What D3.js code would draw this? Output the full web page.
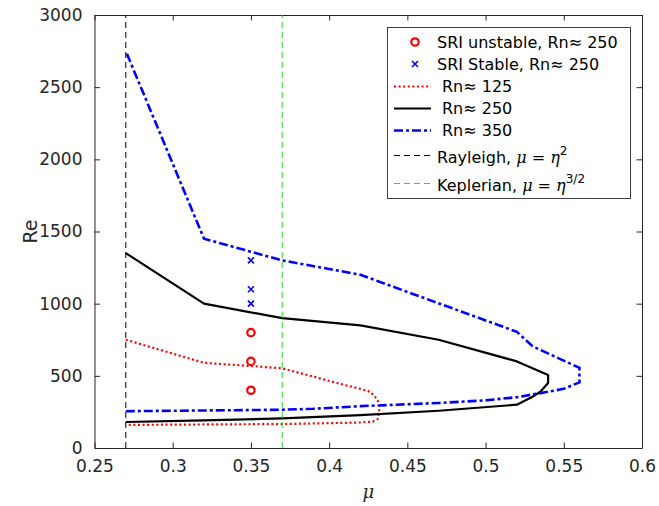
<!DOCTYPE html>
<html>
<head>
<meta charset="utf-8">
<script src="https://cdn.jsdelivr.net/npm/d3@7"></script>
<style>
  body { margin: 0; background: #fff; }
  svg { display: block; font-family: "DejaVu Sans", sans-serif; }
</style>
</head>
<body>
<div id="chart"></div>
<script>
// ---- data ----
const muTicks = [0.25, 0.3, 0.35, 0.4, 0.45, 0.5, 0.55, 0.6];
const muTickLabels = ["0.25", "0.3", "0.35", "0.4", "0.45", "0.5", "0.55", "0.6"];
const reTicks = [0, 500, 1000, 1500, 2000, 2500, 3000];

const sriUnstableMu = [0.35, 0.35, 0.35];
const sriUnstableRe = [400, 600, 800];
const sriStableMu = [0.35, 0.35, 0.35];
const sriStableRe = [1000, 1100, 1300];

const rn125Mu = [0.27, 0.32, 0.35, 0.37, 0.39, 0.41, 0.42, 0.426, 0.429, 0.431, 0.432, 0.432, 0.431, 0.428, 0.42, 0.40, 0.37, 0.32, 0.27];
const rn125Re = [750, 590, 568, 552, 494, 436, 410, 390, 360, 330, 290, 252, 200, 183, 177, 172, 166, 163, 160];

// Rn 250: lower branch then upper branch of one curve
const rn250LowMu = [0.27, 0.32, 0.37, 0.42, 0.47, 0.52, 0.53, 0.535, 0.54];
const rn250LowRe = [180, 192, 205, 228, 258, 300, 355, 390, 450];
const rn250UpMu = [0.54, 0.52, 0.47, 0.42, 0.37, 0.32, 0.27];
const rn250UpRe = [505, 600, 750, 850, 900, 1000, 1350];

const rn350Mu = [0.27, 0.32, 0.37, 0.39, 0.42, 0.47, 0.50, 0.52, 0.535, 0.55, 0.56, 0.56, 0.53, 0.52, 0.42, 0.37, 0.32, 0.27];
const rn350Re = [255, 260, 265, 272, 290, 312, 330, 352, 380, 410, 455, 555, 705, 805, 1200, 1300, 1450, 2750];

const rayleighMu = 0.27;
const keplerianMu = 0.37;

// ---- layout ----
const W = 659, H = 506;
const margin = { left: 94.5, right: 659 - 642, top: 15, bottom: 506 - 448 };
const x = d3.scaleLinear().domain([0.25, 0.6]).range([margin.left, W - margin.right]);
const y = d3.scaleLinear().domain([0, 3000]).range([H - margin.bottom, margin.top]);
const axisColor = "#262626";

const svg = d3.select("#chart").append("svg").attr("width", W).attr("height", H);

svg.append("rect").attr("x", x(0.25)).attr("y", y(3000))
  .attr("width", x(0.6) - x(0.25)).attr("height", y(0) - y(3000)).attr("fill", "#fff");

// axes
const fs = 17;
const xAxis = d3.axisBottom(x).tickValues(muTicks).tickFormat((d, i) => muTickLabels[i]).tickSizeInner(-5.5).tickSizeOuter(0).tickPadding(12);
const gx = svg.append("g").attr("transform", `translate(0,${y(0)})`).call(xAxis);
const xTop = d3.axisTop(x).tickValues(muTicks).tickFormat("").tickSizeInner(-5.5).tickSizeOuter(0);
const gxt = svg.append("g").attr("transform", `translate(0,${y(3000)})`).call(xTop);
const yAxis = d3.axisLeft(y).tickValues(reTicks).tickFormat(d3.format("d")).tickSizeInner(-5.5).tickSizeOuter(0).tickPadding(12);
const gy = svg.append("g").attr("transform", `translate(${x(0.25)},0)`).call(yAxis);
const yRight = d3.axisRight(y).tickValues(reTicks).tickFormat("").tickSizeInner(-5.5).tickSizeOuter(0);
const gyr = svg.append("g").attr("transform", `translate(${x(0.6)},0)`).call(yRight);
[gx, gxt, gy, gyr].forEach(g => {
  g.select(".domain").attr("stroke", axisColor).attr("stroke-width", 1);
  g.selectAll(".tick line").attr("stroke", axisColor).attr("stroke-width", 1);
  g.selectAll(".tick text").attr("fill", axisColor).attr("font-size", fs).attr("font-family", "DejaVu Sans");
});

// axis labels
svg.append("text").attr("x", (x(0.25) + x(0.6)) / 2).attr("y", 498)
  .attr("text-anchor", "middle").attr("font-size", 18).attr("font-style", "italic")
  .attr("font-family", "DejaVu Serif").attr("fill", axisColor).text("μ");
svg.append("text").attr("transform", `translate(37,${(y(0) + y(3000)) / 2}) rotate(-90)`)
  .attr("text-anchor", "middle").attr("font-size", 19).attr("fill", axisColor).text("Re");

const plot = svg.append("g");
const line = d3.line().x(d => x(d[0])).y(d => y(d[1]));

// markers
const unstablePts = sriUnstableMu.map((m, i) => [m, sriUnstableRe[i]]);
plot.selectAll("circle.unst").data(unstablePts).enter().append("circle")
  .attr("cx", d => x(d[0])).attr("cy", d => y(d[1])).attr("r", 3.7)
  .attr("fill", "none").attr("stroke", "#ff0000").attr("stroke-width", 2.2);
const stablePts = sriStableMu.map((m, i) => [m, sriStableRe[i]]);
const xm = (g, cx, cy, s) => g.append("path")
  .attr("d", `M${cx - s},${cy - s}L${cx + s},${cy + s}M${cx - s},${cy + s}L${cx + s},${cy - s}`)
  .attr("stroke", "#0000ff").attr("stroke-width", 1.6).attr("fill", "none");
stablePts.forEach(d => xm(plot, x(d[0]), y(d[1]), 3));

// Rn 125 (red dotted)
plot.append("path").datum(rn125Mu.map((m, i) => [m, rn125Re[i]]))
  .attr("d", line).attr("fill", "none").attr("stroke", "#ff0000").attr("stroke-width", 2.2)
  .attr("stroke-dasharray", "2,2.6");

// Rn 250 (black solid)
const rn250Pts = rn250LowMu.map((m, i) => [m, rn250LowRe[i]]).concat(rn250UpMu.map((m, i) => [m, rn250UpRe[i]]));
plot.append("path").datum(rn250Pts)
  .attr("d", line).attr("fill", "none").attr("stroke", "#000").attr("stroke-width", 2.2)
  .attr("stroke-linejoin", "round");

// Rn 350 (blue dash-dot)
plot.append("path").datum(rn350Mu.map((m, i) => [m, rn350Re[i]]))
  .attr("d", line).attr("fill", "none").attr("stroke", "#0000ff").attr("stroke-width", 2.6)
  .attr("stroke-dasharray", "9,3,3,3");

// Rayleigh & Keplerian vertical lines
plot.append("path").datum([[rayleighMu, 0], [rayleighMu, 3000]])
  .attr("d", line).attr("fill", "none").attr("stroke", "#000").attr("stroke-width", 1)
  .attr("stroke-dasharray", "6,4");
plot.append("path").datum([[keplerianMu, 0], [keplerianMu, 3000]])
  .attr("d", line).attr("fill", "none").attr("stroke", "#22dd22").attr("stroke-width", 1)
  .attr("stroke-dasharray", "6,4");

// ---- legend ----
const lg = svg.append("g");
lg.append("rect").attr("x", 387.5).attr("y", 27.5).attr("width", 243).attr("height", 171)
  .attr("fill", "#fff").attr("stroke", "#404040").attr("stroke-width", 1);
const lfs = 16;
const lx0 = 394, lx1 = 431;
function ltext(tx, ty) {
  return lg.append("text").attr("x", tx).attr("y", ty).attr("font-size", lfs).attr("fill", "#000");
}
lg.append("circle").attr("cx", 415).attr("cy", 42).attr("r", 3.7).attr("fill", "none")
  .attr("stroke", "#ff0000").attr("stroke-width", 2.2);
ltext(437, 47.5).text("SRI unstable, Rn≈ 250");
xm(lg, 415, 64, 3);
ltext(437, 69.5).text("SRI Stable, Rn≈ 250");
lg.append("line").attr("x1", lx0).attr("x2", lx1).attr("y1", 86.5).attr("y2", 86.5)
  .attr("stroke", "#ff0000").attr("stroke-width", 2.2).attr("stroke-dasharray", "2,2.6");
ltext(442, 92).text("Rn≈ 125");
lg.append("line").attr("x1", lx0).attr("x2", lx1).attr("y1", 108.5).attr("y2", 108.5)
  .attr("stroke", "#000").attr("stroke-width", 2.2);
ltext(442, 114).text("Rn≈ 250");
lg.append("line").attr("x1", lx0).attr("x2", lx1).attr("y1", 130.5).attr("y2", 130.5)
  .attr("stroke", "#0000ff").attr("stroke-width", 2.6).attr("stroke-dasharray", "9,3,3,3");
ltext(442, 136).text("Rn≈ 350");
lg.append("line").attr("x1", lx0).attr("x2", lx1).attr("y1", 155.5).attr("y2", 155.5)
  .attr("stroke", "#000").attr("stroke-width", 1).attr("stroke-dasharray", "6,4");
const t6 = ltext(437, 163);
t6.append("tspan").text("Rayleigh, ");
t6.append("tspan").attr("font-family", "DejaVu Serif").attr("font-style", "italic").text("μ");
t6.append("tspan").text(" = ");
t6.append("tspan").attr("font-family", "DejaVu Serif").attr("font-style", "italic").text("η");
t6.append("tspan").attr("dy", -8).attr("font-size", 12).text("2");
lg.append("line").attr("x1", lx0).attr("x2", lx1).attr("y1", 183.5).attr("y2", 183.5)
  .attr("stroke", "#22dd22").attr("stroke-width", 1).attr("stroke-dasharray", "6,4");
const t7 = ltext(437, 191);
t7.append("tspan").text("Keplerian, ");
t7.append("tspan").attr("font-family", "DejaVu Serif").attr("font-style", "italic").text("μ");
t7.append("tspan").text(" = ");
t7.append("tspan").attr("font-family", "DejaVu Serif").attr("font-style", "italic").text("η");
t7.append("tspan").attr("dy", -8).attr("font-size", 12).text("3/2");
</script>
</body>
</html>
